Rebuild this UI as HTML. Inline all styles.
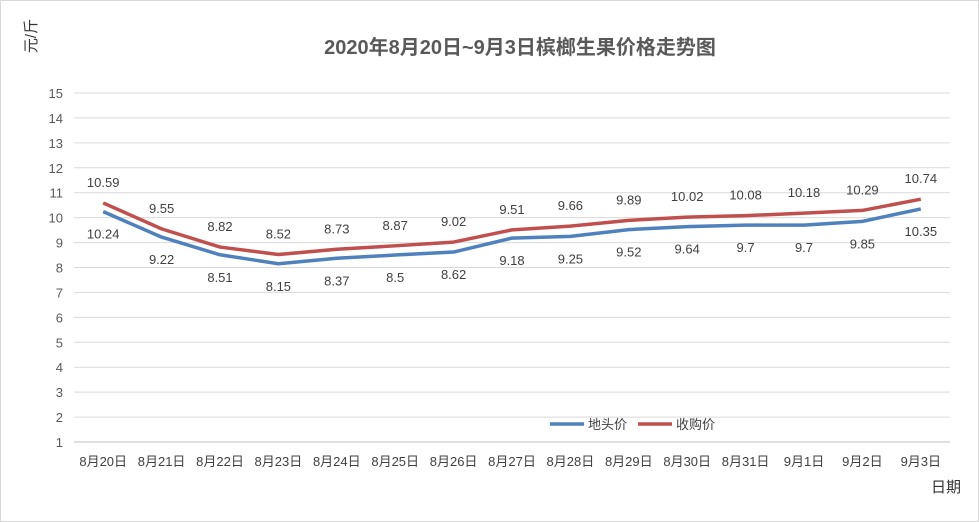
<!DOCTYPE html>
<html><head><meta charset="utf-8"><style>
body{margin:0;background:#fff}
svg{display:block;font-family:"Liberation Sans","Noto Sans CJK SC",sans-serif}
</style></head><body>
<svg id="c" width="979" height="522" viewBox="0 0 979 522">
<rect x="0.5" y="0.5" width="978" height="521" fill="#fff" stroke="#d9d9d9"/>
<text x="520" y="54" text-anchor="middle" font-size="20" font-weight="bold" fill="#595959">2020年8月20日~9月3日槟榔生果价格走势图</text>
<text transform="translate(36,36) rotate(-90)" text-anchor="middle" font-size="15" fill="#333">元/斤</text>
<text x="946" y="492" text-anchor="middle" font-size="15" fill="#333">日期</text>
<g id="grid"></g><g id="xl"></g><g id="lines"></g><g id="labels"></g>
<g>
<line x1="550" y1="424" x2="584" y2="424" stroke="#4f81bd" stroke-width="3.5"/>
<text x="588" y="429" font-size="13" fill="#404040">地头价</text>
<line x1="638" y1="424" x2="672" y2="424" stroke="#c0504d" stroke-width="3.5"/>
<text x="676" y="429" font-size="13" fill="#404040">收购价</text>
</g>
</svg>
<script>
const categories=["8月20日","8月21日","8月22日","8月23日","8月24日","8月25日","8月26日","8月27日","8月28日","8月29日","8月30日","8月31日","9月1日","9月2日","9月3日"];
const fieldPrice=[10.24,9.22,8.51,8.15,8.37,8.5,8.62,9.18,9.25,9.52,9.64,9.7,9.7,9.85,10.35];
const purchasePrice=[10.59,9.55,8.82,8.52,8.73,8.87,9.02,9.51,9.66,9.89,10.02,10.08,10.18,10.29,10.74];
const yTicks=[1,2,3,4,5,6,7,8,9,10,11,12,13,14,15];
const NS="http://www.w3.org/2000/svg";
const L=74,R=950,Y1=442,Y15=93;
const x=i=>L+(R-L)/categories.length*(i+0.5);
const y=v=>Y1-(v-1)*(Y1-Y15)/14;
function mk(t,a,p){const e=document.createElementNS(NS,t);for(const k in a)e.setAttribute(k,a[k]);p.appendChild(e);return e;}
const g=document.getElementById('grid');
yTicks.forEach(v=>{
 const l=mk('line',{x1:L,x2:R,y1:y(v),y2:y(v),stroke:v===1?'#bfbfbf':'#d9d9d9'},g);
 
 
 const t=mk('text',{x:63,y:y(v)+5,'text-anchor':'end','font-size':13,fill:'#595959'},g);t.textContent=v;
 
 
});
const xl=document.getElementById('xl');
categories.forEach((c,i)=>{
 const t=mk('text',{x:x(i),y:466,'text-anchor':'middle','font-size':13,fill:'#404040'},xl);t.textContent=c;
 
 
});
const ln=document.getElementById('lines'),lb=document.getElementById('labels');
[[fieldPrice,'#4f81bd',22,'field-price-line'],[purchasePrice,'#c0504d',-16,'purchase-price-line']].forEach(([d,col,off,nm])=>{
 const p=mk('polyline',{points:d.map((v,i)=>x(i)+','+y(v)).join(' '),fill:'none',stroke:col,'stroke-width':3.5,'stroke-linejoin':'round'},ln);
 
 
 d.forEach((v,i)=>{
  const t=mk('text',{x:x(i),y:y(v)+off+(off>0?5:0),'text-anchor':'middle','font-size':13,fill:'#404040'},lb);t.textContent=v;
  
  
 });
});
</script>
</body></html>
